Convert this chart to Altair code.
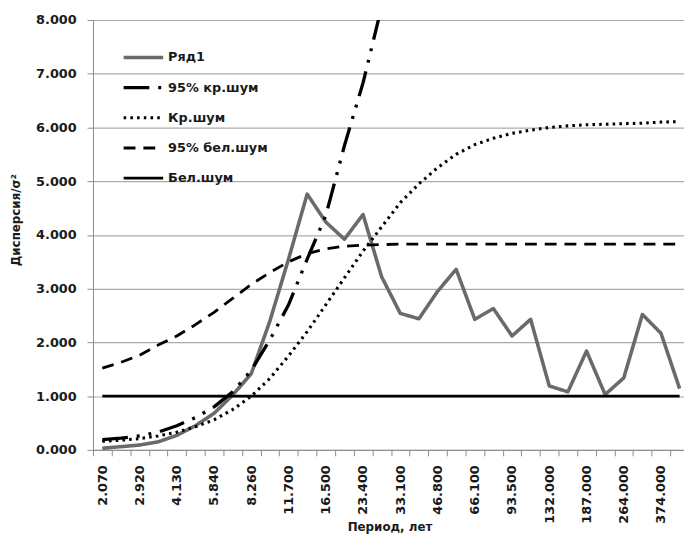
import json
import altair as alt
import pandas as pd

# Categories (period, years) – every other one is labelled on the axis
periods = ["2.070", "2.460", "2.920", "3.470", "4.130", "4.910", "5.840", "6.950",
           "8.260", "9.830", "11.700", "13.900", "16.500", "19.600", "23.400", "27.800",
           "33.100", "39.400", "46.800", "55.700", "66.100", "78.700", "93.500", "111.000",
           "132.000", "157.000", "187.000", "222.000", "264.000", "314.000", "374.000", "445.000"]
tick_labels = ["2.070", "2.920", "4.130", "5.840", "8.260", "11.700", "16.500", "23.400",
               "33.100", "46.800", "66.100", "93.500", "132.000", "187.000", "264.000", "374.000"]

ryad1 = [0.03, 0.06, 0.09, 0.15, 0.27, 0.45, 0.68, 1.02, 1.42, 2.40, 3.55, 4.76, 4.24, 3.92,
         4.38, 3.22, 2.54, 2.44, 2.95, 3.36, 2.43, 2.63, 2.12, 2.43, 1.19, 1.08, 1.84, 1.03,
         1.34, 2.52, 2.17, 1.14]
kr95 = [0.19, 0.22, 0.26, 0.33, 0.45, 0.60, 0.80, 1.08, 1.48, 2.05, 2.70, 3.55, 4.36, 5.66,
        6.83, 8.25]
kr = [0.16, 0.18, 0.21, 0.26, 0.33, 0.43, 0.56, 0.75, 1.00, 1.33, 1.75, 2.20, 2.70, 3.20,
      3.70, 4.15, 4.60, 4.95, 5.25, 5.50, 5.68, 5.80, 5.89, 5.95, 6.00, 6.03, 6.05, 6.06,
      6.07, 6.08, 6.10, 6.11]
bel95 = [1.52, 1.63, 1.76, 1.95, 2.12, 2.33, 2.56, 2.82, 3.08, 3.30, 3.50, 3.65, 3.74, 3.79,
         3.81, 3.82, 3.83, 3.83, 3.83, 3.83, 3.83, 3.83, 3.83, 3.83, 3.83, 3.83, 3.83, 3.83,
         3.83, 3.83, 3.83, 3.83]
bel = [1.0, 1.0, 1.0, 1.0, 1.0, 1.0, 1.0, 1.0, 1.0, 1.0, 1.0, 1.0, 1.0, 1.0, 1.0, 1.0,
       1.0, 1.0, 1.0, 1.0, 1.0, 1.0, 1.0, 1.0, 1.0, 1.0, 1.0, 1.0, 1.0, 1.0, 1.0, 1.0]

series_names = ["Ряд1", "95% кр.шум", "Кр.шум", "95% бел.шум", "Бел.шум"]
series_values = [ryad1, kr95, kr, bel95, bel]
series_colors = ["#6a6a6a", "#000000", "#000000", "#000000", "#000000"]
series_dash = [[1, 0], [26, 9, 3, 9, 3, 9], [2.6, 4.2], [12, 8], [1, 0]]
series_width = [3.6, 2.6, 2.6, 3.0, 2.6]

rows = []
for name, vals in zip(series_names, series_values):
    for i, v in enumerate(vals):
        rows.append({"period": periods[i], "value": v, "series": name})
df = pd.DataFrame(rows)

FONT = "DejaVu Sans"
label_expr = "indexof(" + json.dumps(tick_labels) + ", datum.label) >= 0 ? datum.label : ''"

leg = alt.Legend(
    title=None, orient="none", legendX=29, legendY=31, padding=0,
    symbolType="stroke", symbolSize=1600, clipHeight=14, rowPadding=16.5,
    labelFont=FONT, labelFontWeight="bold", labelFontSize=13, labelColor="#1a1a1a",
    labelOffset=3, symbolOffset=0,
)

chart = alt.Chart(df).mark_line(clip=True, strokeJoin="round").encode(
    x=alt.X(
        "period:N", sort=periods, bandPosition=0.5,
        scale=alt.Scale(type="band", paddingInner=0, paddingOuter=0, range=[0, 603]),
        axis=alt.Axis(
            title="Период, лет", labelAngle=270, labelExpr=label_expr,
            tickBand="extent", ticks=True, tickSize=6, tickColor="#8c8c8c",
            domainColor="#8c8c8c", labelPadding=9, grid=False,
            labelFont=FONT, labelFontWeight="bold", labelFontSize=13, labelColor="#1a1a1a",
            titleFont=FONT, titleFontWeight="bold", titleFontSize=12, titleColor="#1a1a1a",
            titleX=300, titleY=78, titleBaseline="middle", titleAlign="center",
        ),
    ),
    y=alt.Y(
        "value:Q",
        scale=alt.Scale(domain=[0, 8], nice=False),
        axis=alt.Axis(
            title="Дисперсия/σ²", values=[0, 1, 2, 3, 4, 5, 6, 7, 8], format=".3f",
            tickSize=6, tickColor="#8c8c8c", domainColor="#8c8c8c",
            gridColor="#ababab", gridWidth=1.2, labelPadding=11,
            labelFont=FONT, labelFontWeight="bold", labelFontSize=13, labelColor="#1a1a1a",
            titleFont=FONT, titleFontWeight="bold", titleFontSize=12, titleColor="#1a1a1a",
            titleX=-78, titleY=202, titleBaseline="middle", titleAlign="center",
        ),
    ),
    color=alt.Color("series:N", sort=series_names,
                    scale=alt.Scale(domain=series_names, range=series_colors), legend=leg),
    strokeDash=alt.StrokeDash("series:N", sort=series_names,
                              scale=alt.Scale(domain=series_names, range=series_dash), legend=leg),
    strokeWidth=alt.StrokeWidth("series:N", sort=series_names,
                                scale=alt.Scale(domain=series_names, range=series_width), legend=leg),
).properties(
    width=598, height=435,
    autosize=alt.AutoSizeParams(type="none"),
    padding={"left": 86, "top": 9, "right": 0, "bottom": 84},
).configure_view(stroke=None).configure(background="white")

chart.save("out.html", embed_options={"renderer": "svg", "actions": False})
